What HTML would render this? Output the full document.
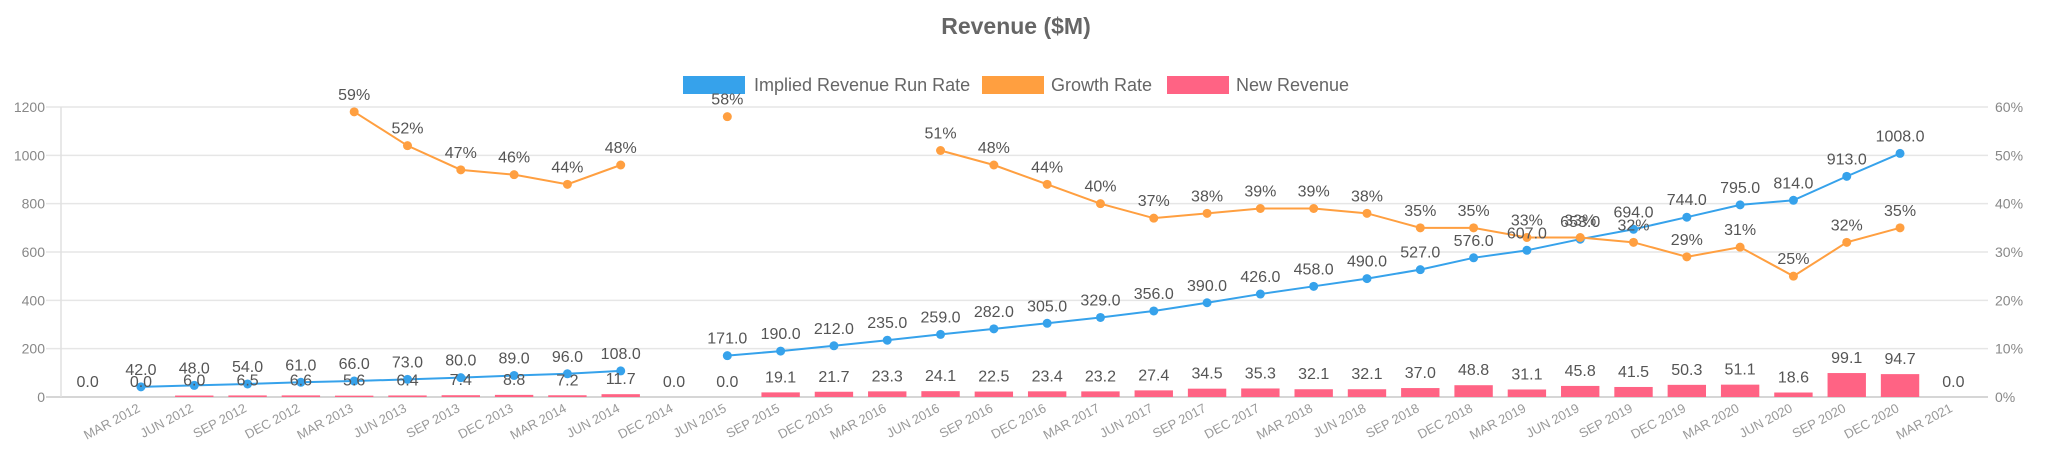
<!DOCTYPE html>
<html><head><meta charset="utf-8"><style>
html,body{margin:0;padding:0;background:#fff;}
svg{display:block;font-family:"Liberation Sans",Arial,sans-serif;}
</style></head><body>
<svg id="chart" width="2048" height="464" viewBox="0 0 2048 464" xmlns="http://www.w3.org/2000/svg">
<text x="1016" y="34" text-anchor="middle" font-size="23" font-weight="bold" fill="#666">Revenue ($M)</text>
<g>
 <g>
  <rect x="683" y="76" width="62" height="18" fill="#36a2eb"/>
  <text x="754" y="91" font-size="18" fill="#666">Implied Revenue Run Rate</text>
 </g>
 <g>
  <rect x="982" y="76" width="62" height="18" fill="#ff9f40"/>
  <text x="1051" y="91" font-size="18" fill="#666">Growth Rate</text>
 </g>
 <g>
  <rect x="1167" y="76" width="62" height="18" fill="#ff6384"/>
  <text x="1236" y="91" font-size="18" fill="#666">New Revenue</text>
 </g>
</g>
<g id="grid"></g>
<g id="yaxis"></g>
<g id="y2axis"></g>
<g id="xaxis"></g>
<g id="bars"></g>
<g id="lines"></g>
<g id="labels"></g>
</svg>
<script>
const categories = ["","MAR 2012","JUN 2012","SEP 2012","DEC 2012","MAR 2013","JUN 2013","SEP 2013","DEC 2013","MAR 2014","JUN 2014","DEC 2014","JUN 2015","SEP 2015","DEC 2015","MAR 2016","JUN 2016","SEP 2016","DEC 2016","MAR 2017","JUN 2017","SEP 2017","DEC 2017","MAR 2018","JUN 2018","SEP 2018","DEC 2018","MAR 2019","JUN 2019","SEP 2019","DEC 2019","MAR 2020","JUN 2020","SEP 2020","DEC 2020","MAR 2021"];
const newRevenue = [0.0,0.0,6.0,6.5,6.6,5.6,6.4,7.4,8.8,7.2,11.7,0.0,0.0,19.1,21.7,23.3,24.1,22.5,23.4,23.2,27.4,34.5,35.3,32.1,32.1,37.0,48.8,31.1,45.8,41.5,50.3,51.1,18.6,99.1,94.7,0.0];
const runRate = [null,42,48,54,61,66,73,80,89,96,108,null,171,190,212,235,259,282,305,329,356,390,426,458,490,527,576,607,653,694,744,795,814,913,1008,null];
const growthRate = [null,null,null,null,null,59,52,47,46,44,48,null,58,null,null,null,51,48,44,40,37,38,39,39,38,35,35,33,33,32,29,31,25,32,35,null];
const leftTicks = [0,200,400,600,800,1000,1200];
const rightTicks = [0,10,20,30,40,50,60];

const NS="http://www.w3.org/2000/svg";
const X0=61, X1=1980, Y0=397, Y1=107;
const step=(X1-X0)/categories.length;
function xc(i){return X0+(i+0.5)*step;}
function yl(v){return Y0-(v/1200)*(Y0-Y1);}
function yr(v){return Y0-(v/60)*(Y0-Y1);}
function mk(tag,attrs,parent,txt){const e=document.createElementNS(NS,tag);for(const k in attrs)e.setAttribute(k,attrs[k]);if(txt!==undefined)e.textContent=txt;parent.appendChild(e);return e;}

const grid=document.getElementById('grid');
leftTicks.forEach(function(t){
  const l=mk('line',{x1:46,x2:X1+8,y1:yl(t),y2:yl(t),stroke:t===0?'#c8c8c8':'#e6e6e6','stroke-width':1.5},grid);
  
  
});
const ax=mk('line',{x1:X0,x2:X0,y1:Y1,y2:Y0,stroke:'#e0e0e0','stroke-width':1.5},grid);



const ya=document.getElementById('yaxis');
leftTicks.forEach(function(t){
  const e=mk('text',{x:45,y:yl(t)+5,'text-anchor':'end','font-size':14,fill:'#888'},ya,String(t));
  
  
});
const y2=document.getElementById('y2axis');
rightTicks.forEach(function(t){
  const e=mk('text',{x:1995,y:yr(t)+5,'font-size':14,fill:'#888'},y2,t+'%');
  
  
});
const xa=document.getElementById('xaxis');
categories.forEach(function(c,i){
  const x=xc(i), y=411;
  const e=mk('text',{x:x,y:y,'text-anchor':'end','font-size':13,fill:'#999',transform:'rotate(-28 '+x+' '+y+')'},xa,c);
  
  
});

const bars=document.getElementById('bars');
const labels=document.getElementById('labels');
const bw=step*0.72;
newRevenue.forEach(function(v,i){
  const r=mk('rect',{x:xc(i)-bw/2,y:yl(v),width:bw,height:Y0-yl(v),fill:'#ff6384'},bars);
  
  
  const t=mk('text',{x:xc(i),y:yl(v)-10,'text-anchor':'middle','font-size':16,fill:'#555'},labels,v.toFixed(1));
  
  
});

const lines=document.getElementById('lines');
function drawSeries(vals,yf,color,name,fmt){
  let seg=[];
  const segs=[];
  vals.forEach(function(v,i){
    if(v===null){if(seg.length)segs.push(seg);seg=[];}
    else seg.push([xc(i),yf(v)]);
  });
  if(seg.length)segs.push(seg);
  segs.forEach(function(s){
    if(s.length>1){
      const p=mk('polyline',{points:s.map(function(q){return q.join(',');}).join(' '),fill:'none',stroke:color,'stroke-width':2},lines);
      
      
    }
  });
  vals.forEach(function(v,i){
    if(v===null)return;
    const c=mk('circle',{cx:xc(i),cy:yf(v),r:4.5,fill:color},lines);
    
    
    const t=mk('text',{x:xc(i),y:yf(v)-12,'text-anchor':'middle','font-size':16,fill:'#555'},labels,fmt(v));
    
    
  });
}
drawSeries(runRate,yl,'#36a2eb','run-rate',function(v){return v.toFixed(1);});
drawSeries(growthRate,yr,'#ff9f40','growth-rate',function(v){return v+'%';});
</script>
</body></html>
